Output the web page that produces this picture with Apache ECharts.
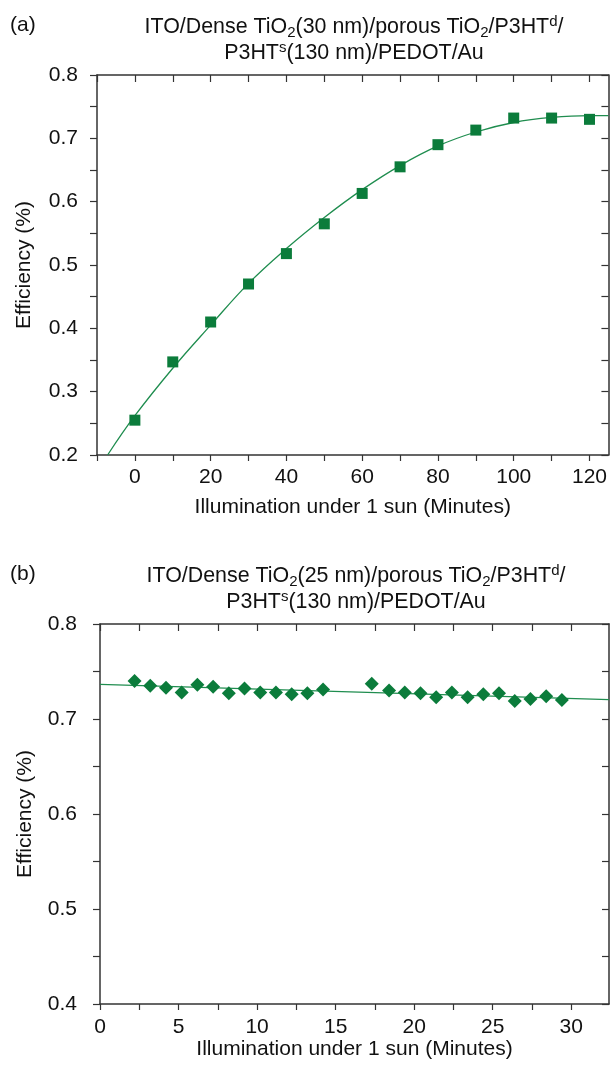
<!DOCTYPE html>
<html>
<head>
<meta charset="utf-8">
<script src="https://cdn.jsdelivr.net/npm/echarts@6/dist/echarts.min.js"></script>
<style>
html,body{margin:0;padding:0;background:#fff;}
#chart{width:610px;height:1066px;}
</style>
</head>
<body>
<div id="chart"></div>
<script>
// ---------- Panel (a) ----------
const timeA = [0, 10, 20, 30, 40, 50, 60, 70, 80, 90, 100, 110, 120];
const effA = [0.255, 0.347, 0.410, 0.470, 0.518, 0.565, 0.613, 0.655, 0.690, 0.713, 0.732, 0.732, 0.730];
const fitAX = [-7.2, 0, 10, 20, 30, 40, 50, 60, 70, 80, 90, 100, 110, 120, 125];
const fitAY = [0.200, 0.262, 0.337, 0.405, 0.471, 0.526, 0.575, 0.619, 0.657, 0.688, 0.710, 0.725, 0.733, 0.736, 0.736];
const xTicksA = [-10, 0, 10, 20, 30, 40, 50, 60, 70, 80, 90, 100, 110, 120];
const xLabelsA = [0, 20, 40, 60, 80, 100, 120];
const yTicksA = [0.2, 0.25, 0.3, 0.35, 0.4, 0.45, 0.5, 0.55, 0.6, 0.65, 0.7, 0.75, 0.8];
const yLabelsA = [0.2, 0.3, 0.4, 0.5, 0.6, 0.7, 0.8];

// ---------- Panel (b) ----------
const timeB = [2.2, 3.2, 4.2, 5.2, 6.2, 7.2, 8.2, 9.2, 10.2, 11.2, 12.2, 13.2, 14.2,
               17.3, 18.4, 19.4, 20.4, 21.4, 22.4, 23.4, 24.4, 25.4, 26.4, 27.4, 28.4, 29.4];
const effB = [0.740, 0.735, 0.733, 0.728, 0.736, 0.734, 0.727, 0.732, 0.728, 0.728, 0.726, 0.727, 0.731,
              0.737, 0.730, 0.728, 0.727, 0.723, 0.728, 0.723, 0.726, 0.727, 0.719, 0.721, 0.724, 0.720];
const fitBX = [0, 32.4];
const fitBY = [0.7365, 0.7205];
const xTicksB = [0, 2.5, 5, 7.5, 10, 12.5, 15, 17.5, 20, 22.5, 25, 27.5, 30];
const xLabelsB = [0, 5, 10, 15, 20, 25, 30];
const yTicksB = [0.4, 0.45, 0.5, 0.55, 0.6, 0.65, 0.7, 0.75, 0.8];
const yLabelsB = [0.4, 0.5, 0.6, 0.7, 0.8];

const titleA = ['{n|ITO/Dense TiO}{sub|2}{n|(30 nm)/porous TiO}{sub|2}{n|/P3HT}{sup|d}{n|/}', '{n|P3HT}{sup|s}{n|(130 nm)/PEDOT/Au}'];
const titleB = ['{n|ITO/Dense TiO}{sub|2}{n|(25 nm)/porous TiO}{sub|2}{n|/P3HT}{sup|d}{n|/}', '{n|P3HT}{sup|s}{n|(130 nm)/PEDOT/Au}'];

const FONT = 'Liberation Sans, Arial, Helvetica, sans-serif';
const GREEN = '#0b7c3b';
const LINEG = '#1f8d4f';
const AX = '#333';

const rich = {
  n: {fontSize: 21.4, lineHeight: 26, verticalAlign: 'middle', fontFamily: FONT, color: '#111'},
  sub: {fontSize: 15, lineHeight: 15, verticalAlign: 'bottom', fontFamily: FONT, color: '#111'},
  sup: {fontSize: 15, lineHeight: 15, verticalAlign: 'top', fontFamily: FONT, color: '#111'}
};

function zip(a, b) { return a.map((v, i) => [v, b[i]]); }

function xMain(grid, min, max, ticks, labels, labelMargin, nameGap) {
  return {
    type: 'value', gridIndex: grid, min: min, max: max, position: 'bottom',
    name: 'Illumination under 1 sun (Minutes)', nameLocation: 'middle', nameGap: nameGap,
    nameTextStyle: {fontFamily: FONT, fontSize: 21, color: '#111'},
    axisLine: {show: true, onZero: false, lineStyle: {color: AX, width: 1.5}},
    axisTick: {show: true, inside: false, length: 6, customValues: ticks, lineStyle: {color: AX, width: 1.2}},
    axisLabel: {show: true, customValues: labels, margin: labelMargin, fontFamily: FONT, fontSize: 21, color: '#111'},
    splitLine: {show: false}
  };
}
function xMirror(grid, min, max, ticks) {
  return {
    type: 'value', gridIndex: grid, min: min, max: max, position: 'top',
    axisLine: {show: true, onZero: false, lineStyle: {color: AX, width: 1.5}},
    axisTick: {show: true, inside: true, length: 7, customValues: ticks, lineStyle: {color: AX, width: 1.2}},
    axisLabel: {show: false}, splitLine: {show: false}
  };
}
function yMain(grid, min, max, ticks, labels, labelMargin, nameGap) {
  return {
    type: 'value', gridIndex: grid, min: min, max: max, position: 'left',
    name: 'Efficiency (%)', nameLocation: 'middle', nameGap: nameGap, nameRotate: 90,
    nameTextStyle: {fontFamily: FONT, fontSize: 21, color: '#111'},
    axisLine: {show: true, onZero: false, lineStyle: {color: AX, width: 1.5}},
    axisTick: {show: true, inside: false, length: 7, customValues: ticks, lineStyle: {color: AX, width: 1.2}},
    axisLabel: {show: true, customValues: labels, margin: labelMargin, fontFamily: FONT, fontSize: 21, color: '#111',
      formatter: v => Number(v).toFixed(1)},
    splitLine: {show: false}
  };
}
function yMirror(grid, min, max, ticks) {
  return {
    type: 'value', gridIndex: grid, min: min, max: max, position: 'right',
    axisLine: {show: true, onZero: false, lineStyle: {color: AX, width: 1.5}},
    axisTick: {show: true, inside: true, length: 7, customValues: ticks, lineStyle: {color: AX, width: 1.2}},
    axisLabel: {show: false}, splitLine: {show: false}
  };
}

const chart = echarts.init(document.getElementById('chart'), null, {renderer: 'canvas'});
chart.setOption({
  backgroundColor: '#fff',
  animation: false,
  title: [
    {text: '(a)', left: 10, top: 15, padding: 0, textStyle: {fontFamily: FONT, fontSize: 21, fontWeight: 'normal', color: '#111'}},
    {text: titleA.join('\n'), left: 354, top: 14, textAlign: 'center', padding: 0,
      textStyle: {fontFamily: FONT, fontSize: 21.4, fontWeight: 'normal', lineHeight: 26, color: '#111', rich: rich}},
    {text: '(b)', left: 10, top: 564, padding: 0, textStyle: {fontFamily: FONT, fontSize: 21, fontWeight: 'normal', color: '#111'}},
    {text: titleB.join('\n'), left: 356, top: 563, textAlign: 'center', padding: 0,
      textStyle: {fontFamily: FONT, fontSize: 21.4, fontWeight: 'normal', lineHeight: 26, color: '#111', rich: rich}}
  ],
  grid: [
    {left: 97, right: 1, top: 75, height: 380, containLabel: false},
    {left: 100, right: 1, top: 624, height: 380, containLabel: false}
  ],
  xAxis: [
    xMain(0, -10, 125, xTicksA, xLabelsA, 12, 42),
    xMirror(0, -10, 125, xTicksA),
    xMain(1, 0, 32.4, xTicksB, xLabelsB, 13, 33),
    xMirror(1, 0, 32.4, xTicksB)
  ],
  yAxis: [
    yMain(0, 0.2, 0.8, yTicksA, yLabelsA, 19, 62),
    yMirror(0, 0.2, 0.8, yTicksA),
    yMain(1, 0.4, 0.8, yTicksB, yLabelsB, 23, 64),
    yMirror(1, 0.4, 0.8, yTicksB)
  ],
  series: [
    {type: 'line', xAxisIndex: 0, yAxisIndex: 0, data: zip(fitAX, fitAY), smooth: 0.4, showSymbol: false,
      lineStyle: {color: LINEG, width: 1.3}, z: 2, clip: true},
    {type: 'scatter', xAxisIndex: 0, yAxisIndex: 0, data: zip(timeA, effA), symbol: 'rect', symbolSize: 11,
      itemStyle: {color: GREEN, opacity: 1}, z: 3},
    {type: 'line', xAxisIndex: 2, yAxisIndex: 2, data: zip(fitBX, fitBY), showSymbol: false,
      lineStyle: {color: LINEG, width: 1.3}, z: 2},
    {type: 'scatter', xAxisIndex: 2, yAxisIndex: 2, data: zip(timeB, effB), symbol: 'diamond', symbolSize: 14,
      itemStyle: {color: GREEN, opacity: 1}, z: 3}
  ]
});
</script>
</body>
</html>
